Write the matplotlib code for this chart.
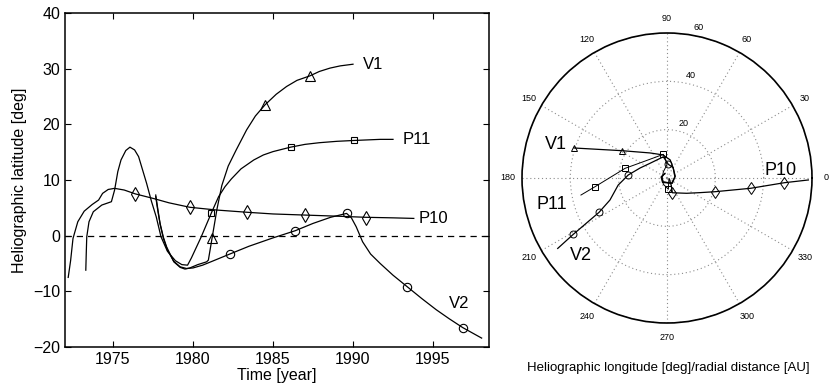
import numpy as np
import matplotlib
matplotlib.use("Agg")
import matplotlib.pyplot as plt

plt.rcParams['font.family'] = ['Liberation Sans', 'DejaVu Sans']

# ---- latitude vs time (left panel) ----
p10_t = [1972.2, 1972.35, 1972.5, 1972.8, 1973.2, 1973.7, 1974.1, 1974.35, 1974.7, 1975.1,
         1975.7, 1976.4, 1977.5, 1978.5, 1979.8, 1981.5, 1983.4, 1985.0, 1987.0, 1989.0,
         1990.8, 1992.5, 1993.8]
p10_lat = [-7.5, -4.5, -0.5, 2.5, 4.4, 5.6, 6.4, 7.6, 8.3, 8.5,
           8.2, 7.5, 6.7, 5.9, 5.1, 4.6, 4.2, 3.9, 3.7, 3.5,
           3.3, 3.2, 3.1]
p10_mark_t = [1976.4, 1979.8, 1983.4, 1987.0, 1990.8]
p10_mark_lat = [7.5, 5.1, 4.2, 3.7, 3.2]

p11_t = [1973.3, 1973.33, 1973.36, 1973.5, 1973.77, 1974.3, 1974.9, 1975.1, 1975.3, 1975.5,
         1975.8, 1976.06, 1976.35, 1976.6, 1977.1, 1977.4, 1977.7, 1978.0, 1978.4, 1978.9,
         1979.3, 1979.66, 1979.9, 1980.5, 1981.15, 1981.6, 1982.0, 1982.4, 1983.0, 1983.8,
         1984.4, 1985.0, 1986.1, 1987.0, 1987.9, 1989.0, 1990.06, 1991.7, 1992.5]
p11_lat = [-6.2, -3.0, -0.2, 2.5, 4.3, 5.5, 6.1, 8.2, 11.5, 13.6,
           15.3, 15.9, 15.4, 14.2, 9.4, 6.2, 3.4, -0.2, -2.8, -4.5,
           -5.2, -5.3, -4.0, -0.3, 4.1, 7.0, 8.8, 10.2, 12.0, 13.6,
           14.5, 15.1, 15.9, 16.4, 16.7, 16.95, 17.1, 17.3, 17.3]
p11_mark_t = [1981.15, 1986.1, 1990.06]
p11_mark_lat = [4.1, 15.9, 17.1]

v1_t = [1977.67, 1977.8, 1977.94, 1978.15, 1978.35, 1978.8, 1979.2, 1979.5, 1979.8, 1980.3,
        1980.85, 1980.96, 1981.2, 1981.5, 1981.8, 1982.2, 1982.7, 1983.35, 1983.9, 1984.5,
        1985.2, 1985.85, 1986.5, 1987.3, 1987.9, 1988.56, 1989.2, 1990.0]
v1_lat = [7.3, 4.8, 2.2, -0.3, -2.0, -4.7, -5.7, -6.0, -5.8, -5.2,
          -4.7, -4.4, -0.3, 4.8, 9.0, 12.5, 15.4, 19.0, 21.5, 23.5,
          25.4, 26.8, 27.9, 28.7, 29.5, 30.1, 30.5, 30.8]
v1_mark_t = [1981.2, 1984.5, 1987.3]
v1_mark_lat = [-0.5, 23.5, 28.7]

v2_t = [1977.67, 1977.8, 1977.95, 1978.15, 1978.4, 1978.8, 1979.2, 1979.6, 1980.0, 1980.6,
        1981.2, 1982.3, 1983.5, 1985.0, 1986.4, 1987.5, 1988.6, 1989.6, 1989.9, 1990.2,
        1990.6, 1991.1, 1991.7, 1992.5, 1993.4, 1994.3, 1995.2, 1996.0, 1996.85, 1998.04]
v2_lat = [7.0, 4.5, 2.0, -0.5, -2.6, -4.6, -5.6, -5.9, -5.8, -5.3,
          -4.6, -3.3, -1.9, -0.4, 0.9, 2.2, 3.3, 4.0, 3.2, 1.6,
          -1.1, -3.3, -5.0, -7.1, -9.2, -11.3, -13.3, -14.9, -16.5, -18.4]
v2_mark_t = [1982.3, 1986.4, 1989.6, 1993.4, 1996.85]
v2_mark_lat = [-3.3, 0.9, 4.0, -9.2, -16.5]

# ---- longitude (deg) / radial distance (AU) (right panel) ----
v1_lon = [113, 166, 223, -48, 9, 57, 80, 99.9, 124, 148.9, 156.9, 162.1]
v1_r = [2.1, 2.3, 2.3, 2.9, 3.3, 4.8, 7.6, 9.7, 12.5, 21.9, 30.1, 40.4]
v1_mark_lon = [148.9, 162.1]
v1_mark_r = [21.9, 40.4]

v2_lon = [120, 170, 225, -45, 12, 60, 84.5, 99.9, 139.2, 159.7, 175.6, 182.6, 188.2,
          201.1, 206.8, 211, 212.8]
v2_r = [2.0, 2.5, 2.6, 3.1, 3.5, 5.0, 5.7, 8.9, 9.3, 11.9, 16.1, 18.1, 20.4,
        25.3, 31.5, 45.2, 53.8]
v2_mark_lon = [84.5, 175.6, 206.8, 211]
v2_mark_r = [5.7, 16.1, 31.5, 45.2]

p11_lon = [-40, -83, -120, 180, 120, 90, 95, 98.9, 145.5, 167, 186.9, 191.2]
p11_r = [1.0, 4.7, 3.0, 2.0, 3.0, 5.5, 8.0, 9.9, 11.9, 17.8, 30.0, 36.3]
p11_mark_lon = [-83, 98.9, 167, 186.9]
p11_mark_r = [4.7, 9.9, 17.8, 30.0]

p10_lon = [-20, -60, -70, -37.9, -24, -15.9, -7, -2.3, -0.8]
p10_r = [1.0, 3.5, 6.5, 10.3, 14.9, 20.7, 34.9, 48.6, 58.5]
p10_mark_lon = [-70, -15.9, -7, -2.3]
p10_mark_r = [6.5, 20.7, 34.9, 48.6]

theta_ticks = list(range(0, 360, 30))
r_ticks = [20, 40, 60]

fig = plt.figure(figsize=(8.32, 3.9), dpi=100)

# left panel
ax = fig.add_axes([65 / 832, 43 / 390, 424 / 832, 334 / 390])
lw = 0.9
ax.axhline(0, color='k', ls='--', lw=0.9, dashes=(5, 4))
ax.plot(p10_t, p10_lat, 'k-', lw=lw)
ax.plot(p11_t, p11_lat, 'k-', lw=lw)
ax.plot(v1_t, v1_lat, 'k-', lw=lw)
ax.plot(v2_t, v2_lat, 'k-', lw=lw)
mk = dict(ls='none', mfc='none', mec='k', mew=0.8)
ax.plot(p10_mark_t, p10_mark_lat, marker='d', ms=7, **mk)
ax.plot(p11_mark_t, p11_mark_lat, marker='s', ms=5, **mk)
ax.plot(v1_mark_t, v1_mark_lat, marker='^', ms=7, **mk)
ax.plot(v2_mark_t, v2_mark_lat, marker='o', ms=6, **mk)

ax.text(1990.6, 30.8, 'V1', fontsize=12, va='center')
ax.text(1993.1, 17.3, 'P11', fontsize=12, va='center')
ax.text(1994.1, 3.0, 'P10', fontsize=12, va='center')
ax.text(1996.0, -12.1, 'V2', fontsize=12, va='center')

ax.set_xlim(1972, 1998.5)
ax.set_ylim(-20, 40)
ax.set_xticks([1975, 1980, 1985, 1990, 1995])
ax.set_yticks([-20, -10, 0, 10, 20, 30, 40])
ax.set_yticklabels(['\u221220', '\u221210', '0', '10', '20', '30', '40'])
ax.tick_params(direction='in', top=True, right=True, length=4, labelsize=11.5)
ax.set_xlabel('Time [year]', fontsize=11.5, labelpad=1)
ax.set_ylabel('Heliographic latitude [deg]', fontsize=11.5, labelpad=4)
for s in ax.spines.values():
    s.set_linewidth(1.1)

# right panel (polar)
pax = fig.add_axes([522 / 832, 67 / 390, 290 / 832, 290 / 390], projection='polar')
pax.set_ylim(0, 60)
pax.set_xticks(np.deg2rad(theta_ticks))
pax.set_xticklabels([])
pax.set_yticks(r_ticks)
pax.set_yticklabels([])
pax.grid(True, color='0.55', ls=(0, (1, 2.5)), lw=0.8)
pax.spines['polar'].set_color('k')
pax.spines['polar'].set_linewidth(1.2)

plw = 0.9
pax.plot(np.deg2rad(v1_lon), v1_r, 'k-', lw=plw)
pax.plot(np.deg2rad(v2_lon), v2_r, 'k-', lw=plw)
pax.plot(np.deg2rad(p11_lon), p11_r, 'k-', lw=0.7)
pax.plot(np.deg2rad(p10_lon), p10_r, 'k-', lw=plw)
pmk = dict(ls='none', mfc='none', mec='k', mew=0.7)
pax.plot(np.deg2rad(v1_mark_lon), v1_mark_r, marker='^', ms=5, **pmk)
pax.plot(np.deg2rad(v2_mark_lon), v2_mark_r, marker='o', ms=5, **pmk)
pax.plot(np.deg2rad(p11_mark_lon), p11_mark_r, marker='s', ms=4, **pmk)
pax.plot(np.deg2rad(p10_mark_lon), p10_mark_r, marker='d', ms=6, **pmk)

for th in theta_ticks:
    pax.text(np.deg2rad(th), 66, str(th), fontsize=6.5, ha='center', va='center', clip_on=False)
for rv, ang in zip(r_ticks, [73, 77, 78]):
    pax.text(np.deg2rad(ang), rv + 3.5, str(rv), fontsize=6.5, ha='center', va='center', clip_on=False)

pax.text(np.deg2rad(163), 48, 'V1', fontsize=13, ha='center', va='center')
pax.text(np.deg2rad(193), 49, 'P11', fontsize=13, ha='center', va='center')
pax.text(np.deg2rad(222), 48, 'V2', fontsize=13, ha='center', va='center')
pax.text(np.deg2rad(3.9), 47, 'P10', fontsize=13, ha='center', va='center')

fig.text(668 / 832, 1 - 368 / 390, 'Heliographic longitude [deg]/radial distance [AU]',
         fontsize=9.5, ha='center', va='center')

fig.savefig('out.png', dpi=100)
